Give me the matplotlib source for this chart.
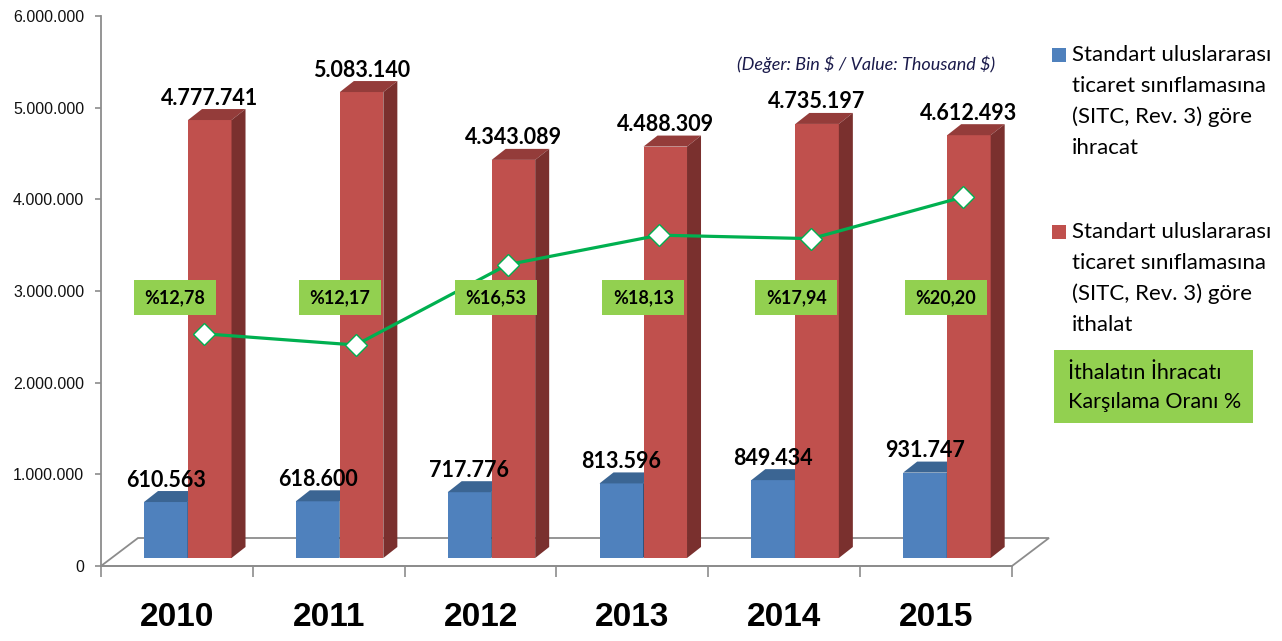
import matplotlib
matplotlib.use('Agg')
import matplotlib.pyplot as plt
from matplotlib.patches import Polygon, Rectangle

# ---------------- data ----------------
years = ['2010', '2011', '2012', '2013', '2014', '2015']
exports = [610563, 618600, 717776, 813596, 849434, 931747]
imports = [4777741, 5083140, 4343089, 4488309, 4735197, 4612493]
ratios = [12.78, 12.17, 16.53, 18.13, 17.94, 20.20]
export_labels = ['610.563', '618.600', '717.776', '813.596', '849.434', '931.747']
import_labels = ['4.777.741', '5.083.140', '4.343.089', '4.488.309', '4.735.197', '4.612.493']
ratio_labels = ['%12,78', '%12,17', '%16,53', '%18,13', '%17,94', '%20,20']
yticks = [0, 1000000, 2000000, 3000000, 4000000, 5000000, 6000000]
ytick_labels = ['0', '1.000.000', '2.000.000', '3.000.000', '4.000.000', '5.000.000', '6.000.000']
legend_export = ['Standart uluslararası', 'ticaret sınıflamasına', '(SITC, Rev. 3) göre', 'ihracat']
legend_import = ['Standart uluslararası', 'ticaret sınıflamasına', '(SITC, Rev. 3) göre', 'ithalat']
legend_ratio = ['İthalatın İhracatı', 'Karşılama Oranı %']
note = '(Değer: Bin $ / Value: Thousand $)'

# ---------------- style ----------------
BLUE, BLUE_TOP, BLUE_SIDE = '#4F81BD', '#3B6593', '#2F5078'
RED, RED_TOP, RED_SIDE = '#C0504D', '#943C3A', '#7A302E'
GREEN_LINE = '#00B050'
GREEN_BOX = '#92D050'
GREY = '#8C8C8C'
CAL = ['Lato', 'DejaVu Sans']
ARIAL = ['Liberation Sans', 'DejaVu Sans']

W, H = 1282, 641
fig = plt.figure(figsize=(W / 100, H / 100), dpi=100)
L, R, T, B = 101, 1012, 16, 566
ax = fig.add_axes([L / W, (H - B) / H, (R - L) / W, (B - T) / H])
ax.set_xlim(-0.5, 5.5)
ax.set_ylim(0, 6000000)
ux = 6.0 / (R - L)          # data units per pixel (x)
uy = 6000000.0 / (B - T)    # data units per pixel (y)

for s in ['top', 'right']:
    ax.spines[s].set_visible(False)
for s in ['left', 'bottom']:
    ax.spines[s].set_color(GREY)
    ax.spines[s].set_linewidth(1.3)
ax.set_yticks(yticks)
ax.set_yticklabels(ytick_labels, fontfamily=ARIAL, fontsize=11.5, color='#111111')
ax.tick_params(axis='y', length=4, color=GREY, width=1.2, pad=8)
ax.set_xticks([-0.5 + k for k in range(7)])
ax.set_xticklabels([])
ax.tick_params(axis='x', length=8, color=GREY, width=1.2)

# floor
fdx, fdy = 37 * ux, 28 * uy
floor = Polygon([(-0.5, 0), (5.5, 0), (5.5 + fdx, fdy), (-0.5 + fdx, fdy)],
                closed=True, facecolor='white', edgecolor=GREY, lw=1.3,
                clip_on=False, zorder=1)
ax.add_patch(floor)

dx, dy = 14 * ux, 11 * uy
base = 8 * uy
bw = 43.5 * ux


def bar3d(x0, val, fc, tc, sc):
    top = base + val
    ax.add_patch(Polygon([(x0, base), (x0 + bw, base), (x0 + bw, top), (x0, top)],
                         closed=True, facecolor=fc, edgecolor='none', zorder=3, clip_on=False))
    ax.add_patch(Polygon([(x0, top), (x0 + bw, top), (x0 + bw + dx, top + dy), (x0 + dx, top + dy)],
                         closed=True, facecolor=tc, edgecolor='none', zorder=3, clip_on=False))
    ax.add_patch(Polygon([(x0 + bw, base), (x0 + bw + dx, base + dy), (x0 + bw + dx, top + dy), (x0 + bw, top)],
                         closed=True, facecolor=sc, edgecolor='none', zorder=3, clip_on=False))
    return top


for i in range(len(years)):
    xb = i - 32.9 * ux
    xr = i + 11.1 * ux
    tb = bar3d(xb, exports[i], BLUE, BLUE_TOP, BLUE_SIDE)
    tr = bar3d(xr, imports[i], RED, RED_TOP, RED_SIDE)
    ax.text(xb + bw / 2, tb + 22 * uy, export_labels[i], ha='center', va='center',
            fontfamily=CAL, fontweight='bold', fontsize=15.5, color='black', zorder=5)
    ax.text(xr + bw / 2, tr + 22 * uy, import_labels[i], ha='center', va='center',
            fontfamily=CAL, fontweight='bold', fontsize=15.5, color='black', zorder=5)
    ax.text(i, -51 * uy, years[i], ha='center', va='center', fontfamily=ARIAL,
            fontweight='bold', fontsize=24, color='black', clip_on=False)

# ratio line on secondary axis
ax2 = ax.twinx()
ax2.set_ylim(0.18, 30.02)
ax2.axis('off')
xl = [i + 27 * ux for i in range(len(years))]
ax2.plot(xl, ratios, color=GREEN_LINE, lw=2.3, marker='D', ms=11,
         mfc='white', mec=GREEN_LINE, mew=1.0, zorder=6)

box_off = [-29, -16, -12, -16, -15, -17]
bwid, bhei = 82 * ux, 35 * uy
yc = (B - 298) * uy
for i in range(len(years)):
    xc = xl[i] + box_off[i] * ux
    ax2.add_patch(Rectangle((xc - bwid / 2, yc - bhei / 2), bwid, bhei, transform=ax.transData,
                            facecolor=GREEN_BOX, edgecolor='none', zorder=7))
    ax2.text(xc, yc, ratio_labels[i], transform=ax.transData, ha='center', va='center',
             fontfamily=CAL, fontweight='bold', fontsize=13, color='black', zorder=8)

# note
fig.text(866 / W, 1 - 64 / H, note, ha='center', va='center', fontfamily=CAL,
         fontstyle='italic', fontsize=13, color='#1B1B4B', parse_math=False)

# legend
def legend_block(y0, color, lines):
    fig.patches.append(Rectangle((1052 / W, 1 - (y0 + 7) / H), 14 / W, 14 / H,
                                 transform=fig.transFigure, facecolor=color, edgecolor='none'))
    for k, t in enumerate(lines):
        fig.text(1072 / W, 1 - (y0 + 31 * k) / H, t, ha='left', va='center',
                 fontfamily=CAL, fontsize=16, color='black')


legend_block(55, BLUE, legend_export)
legend_block(232, RED, legend_import)
fig.patches.append(Rectangle((1054 / W, 1 - 423 / H), 199 / W, 73 / H,
                             transform=fig.transFigure, facecolor=GREEN_BOX, edgecolor='none'))
for k, t in enumerate(legend_ratio):
    fig.text(1068 / W, 1 - (373 + 29 * k) / H, t, ha='left', va='center',
             fontfamily=CAL, fontsize=15.5, color='black')

fig.savefig('out.png', dpi=100)
